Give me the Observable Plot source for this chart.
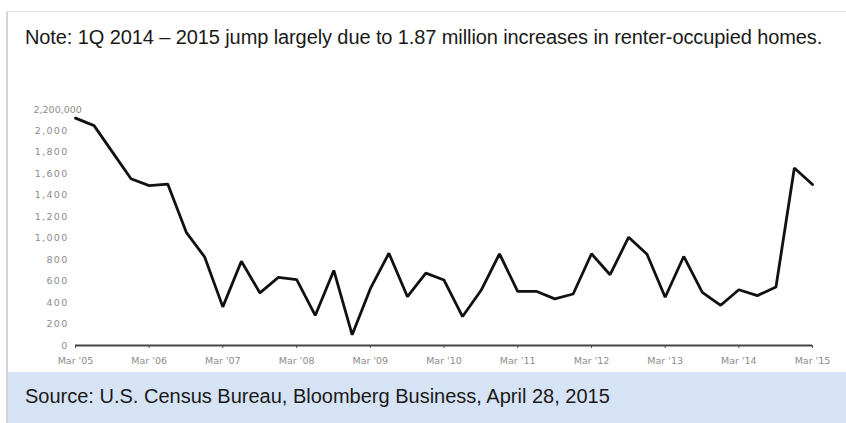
<!DOCTYPE html>
<html>
<head>
<meta charset="utf-8">
<script src="https://cdn.jsdelivr.net/npm/d3@7"></script>
<script src="https://cdn.jsdelivr.net/npm/@observablehq/plot@0.6"></script>
<style>
  html, body { margin: 0; padding: 0; background: #fff; }
  #wrap { position: relative; width: 846px; height: 423px; overflow: hidden; background: #fff; font-family: "Liberation Sans", Arial, sans-serif; }
  #frame { position: absolute; left: 6px; top: 11px; right: 0; bottom: 0; border-left: 2px solid #d4d4d4; border-top: 1px solid #e6e6e6; }
  #note { position: absolute; left: 25px; top: 26px; font-size: 20px; color: #1a1a1a; white-space: nowrap; letter-spacing: -0.1px; }
  #chart { position: absolute; left: 0; top: 80px; }
  #source { position: absolute; left: 8px; top: 372px; width: 838px; height: 51px; background: #d6e3f4; }
  #source span { position: absolute; left: 17px; top: 13px; font-size: 20px; color: #1a1a1a; white-space: nowrap; }
  g[aria-label="y-axis tick label"] text { letter-spacing: 1.3px; }
</style>
</head>
<body>
<div id="wrap">
  <div id="frame"></div>
  <div id="note">Note: 1Q 2014 – 2015 jump largely due to 1.87 million increases in renter-occupied homes.</div>
  <div id="chart"></div>
  <div id="source"><span>Source: U.S. Census Bureau, Bloomberg Business, April 28, 2015</span></div>
</div>
<script>
// Quarterly values (thousands), Mar '05 .. Mar '15
const quarters = [
  "2005-03","2005-06","2005-09","2005-12",
  "2006-03","2006-06","2006-09","2006-12",
  "2007-03","2007-06","2007-09","2007-12",
  "2008-03","2008-06","2008-09","2008-12",
  "2009-03","2009-06","2009-09","2009-12",
  "2010-03","2010-06","2010-09","2010-12",
  "2011-03","2011-06","2011-09","2011-12",
  "2012-03","2012-06","2012-09","2012-12",
  "2013-03","2013-06","2013-09","2013-12",
  "2014-03","2014-06","2014-09","2014-12",
  "2015-03"
];
const values = [
  2120, 2050, 1800, 1555,
  1490, 1505, 1055, 825,
  360, 785, 490, 635,
  615, 280, 700, 100,
  530, 860, 455, 675,
  610, 270, 515, 855,
  505, 505, 435, 480,
  855, 660, 1010, 850,
  450, 830, 495, 375,
  520, 465, 545, 1655,
  1500
];
const xTicks = ["2005-03","2006-03","2007-03","2008-03","2009-03","2010-03","2011-03","2012-03","2013-03","2014-03","2015-03"];
const xTickLabels = ["Mar '05","Mar '06","Mar '07","Mar '08","Mar '09","Mar '10","Mar '11","Mar '12","Mar '13","Mar '14","Mar '15"];
const yTicks = [0,200,400,600,800,1000,1200,1400,1600,1800,2000];
const yTickLabels = ["0","200","400","600","800","1,000","1,200","1,400","1,600","1,800","2,000"];
const yTopTick = [2200];
const yTopLabel = ["2,200,000"];

const parse = d3.utcParse("%Y-%m");
const data = quarters.map((q, i) => ({date: parse(q), value: values[i]}));
const xTickDates = xTicks.map(parse);
const xLabel = new Map(xTickDates.map((d, i) => [+d, xTickLabels[i]]));
const yLabel = new Map(yTicks.map((v, i) => [v, yTickLabels[i]]));

const chart = Plot.plot({
  width: 846,
  height: 292,
  marginLeft: 75,
  marginRight: 34,
  marginTop: 29,
  marginBottom: 27,
  style: {fontFamily: "'DejaVu Sans', sans-serif", fontSize: "9.5px", color: "#888", background: "transparent"},
  x: {type: "utc", domain: [parse("2005-03"), parse("2015-03")]},
  y: {domain: [0, 2200]},
  marks: [
    Plot.axisY({ticks: yTicks, tickFormat: d => yLabel.get(d), tickSize: 0, tickPadding: 7, label: null, fill: "#8c8c8c"}),
    Plot.text(yTopTick, {y: d => d, frameAnchor: "left", dx: -42, textAnchor: "start", text: (d, i) => yTopLabel[i], fill: "#8c8c8c", fontSize: 9.5}),
    Plot.axisX({ticks: xTickDates, tickFormat: d => xLabel.get(+d), tickSize: 3, tickPadding: 9, label: null, stroke: "#555", fill: "#8c8c8c"}),
    Plot.ruleY([0], {stroke: "#444", strokeWidth: 2}),
    Plot.line(data, {x: "date", y: "value", stroke: "#111", strokeWidth: 2.8, strokeLinejoin: "miter"})
  ]
});
document.getElementById("chart").appendChild(chart);
</script>
</body>
</html>
